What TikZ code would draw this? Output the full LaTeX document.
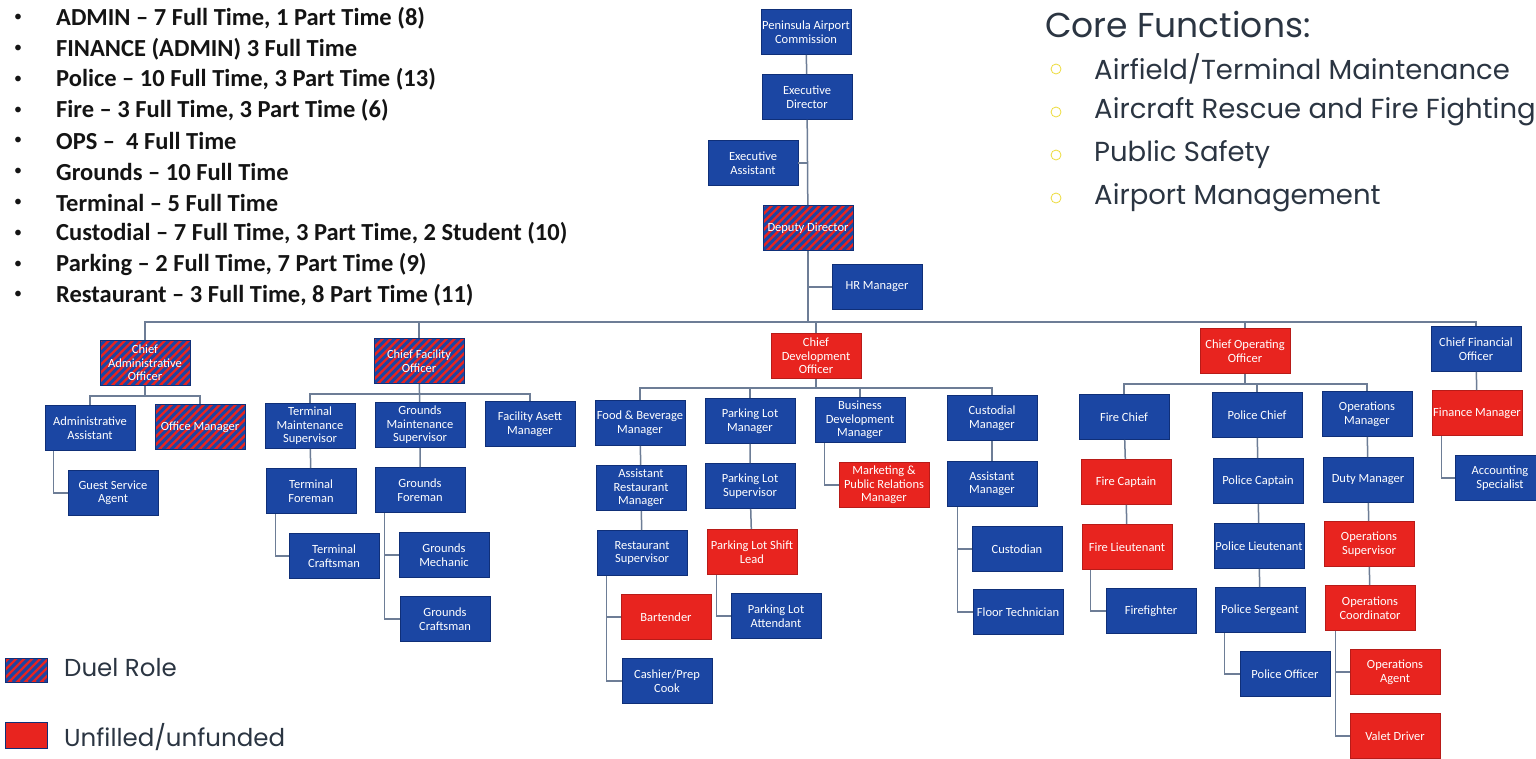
\documentclass[tikz,border=0pt]{standalone}
\usepackage{fontspec}
\usepackage{tikz}
\usetikzlibrary{calc}
\newfontfamily\boxfont{Carlito}
\newfontfamily\corefont{Poppins}
\definecolor{boxblue}{HTML}{1B46A3}
\definecolor{boxedge}{HTML}{0F2F78}
\definecolor{vacred}{HTML}{E8241F}
\definecolor{vacedge}{HTML}{B81B18}
\definecolor{wirecol}{HTML}{6D7D96}
\definecolor{ink}{HTML}{141414}
\definecolor{slate}{HTML}{2B3542}
\definecolor{ringcol}{HTML}{EDDC3C}
\tikzset{
  role/.style={draw=boxedge, fill=boxblue, line width=0.8pt, text=white, align=center,
    minimum width=90pt, minimum height=45pt, inner sep=1pt,
    font=\boxfont\fontsize{12.5}{13.5}\selectfont},
  vacant/.style={role, draw=vacedge, fill=vacred},
  duel/.style={role, fill=vacred, path picture={
    \foreach \s in {-8,...,13}
      \draw[boxblue, line width=2.9pt] ([xshift=\s*8pt]path picture bounding box.south west) -- ++(60pt,60pt);}},
  wire/.style={draw=wirecol, line width=1.5pt},
  stafftxt/.style={anchor=west, text=ink, inner sep=0pt, font=\boxfont\bfseries\fontsize{24.5}{26}\selectfont},
  coretxt/.style={anchor=west, text=slate, inner sep=0pt, font=\corefont\fontsize{27.5}{31}\selectfont},
  keytxt/.style={coretxt, font=\corefont\fontsize{24.5}{27}\selectfont},
  ring/.style={circle, draw=ringcol, line width=0.8pt, minimum size=10pt, inner sep=0pt}
}

\begin{document}
\begin{tikzpicture}[x=1pt, y=-1pt]
  \useasboundingbox[fill=white] (0,0) rectangle (1536,758);

  % staff counts
  \foreach \t [count=\i] in {{ADMIN – 7 Full Time, 1 Part Time (8)},
      {FINANCE (ADMIN) 3 Full Time},
      {Police – 10 Full Time, 3 Part Time (13)},
      {Fire – 3 Full Time, 3 Part Time (6)},
      {OPS –\ \ 4 Full Time},
      {Grounds – 10 Full Time},
      {Terminal – 5 Full Time},
      {Custodial – 7 Full Time, 3 Part Time, 2 Student (10)},
      {Parking – 2 Full Time, 7 Part Time (9)},
      {Restaurant – 3 Full Time, 8 Part Time (11)}}{
    \node[stafftxt, font=\boxfont\fontsize{16}{18}\selectfont] (dot\i) at (14,{18+30.8*(\i-1)}) {\textbullet};
    \node[stafftxt] (staff\i) at (56,{18+30.8*(\i-1)}) {\t};
  }

  % core functions
  \node[coretxt, font=\corefont\fontsize{34.5}{38}\selectfont] (coretitle) at (1045,25) {Core Functions:};
  \foreach \t [count=\i] in {Airfield/Terminal Maintenance, Aircraft Rescue and Fire Fighting,
      Public Safety, Airport Management}{
    \node[ring] (ring\i) at (1056,{26+43*\i}) {};
    \node[coretxt] (core\i) at (1094,{26+43*\i}) {\t};
  }

  % top of the chart
  \node[role] (pac) at (806,32) {Peninsula Airport\\Commission};
  \node[role] (exd) at (807,97) {Executive\\Director};
  \node[role] (exa) at (753,163) {Executive\\Assistant};
  \node[duel] (dep) at (808,228) {Deputy Director};
  \node[role] (hrm) at (877,287) {HR Manager};
  \coordinate (mainbus) at (808,322);

  % administration
  \node[duel] (cao) at (145,363) {Chief\\Administrative\\Officer};
  \node[role] (aas) at (90,428) {Administrative\\Assistant};
  \node[duel] (ofm) at (200,427) {Office Manager};
  \node[role] (gsa) at (113,493) {Guest Service\\Agent};

  % facilities
  \node[duel] (cfa) at (419,361) {Chief Facility\\Officer};
  \node[role] (tms) at (310,426) {Terminal\\Maintenance\\Supervisor};
  \node[role] (gms) at (420,425) {Grounds\\Maintenance\\Supervisor};
  \node[role] (fam) at (530,424) {Facility Asett\\Manager};
  \node[role] (tfm) at (311,491) {Terminal\\Foreman};
  \node[role] (gfm) at (420,490) {Grounds\\Foreman};
  \node[role] (tcr) at (334,556) {Terminal\\Craftsman};
  \node[role] (gme) at (444,555) {Grounds\\Mechanic};
  \node[role] (gcr) at (445,619) {Grounds\\Craftsman};

  % development
  \node[vacant] (cdo) at (816,356) {Chief\\Development\\Officer};
  \node[role] (fbm) at (640,423) {Food \& Beverage\\Manager};
  \node[role] (plm) at (750,421) {Parking Lot\\Manager};
  \node[role] (bdm) at (860,420) {Business\\Development\\Manager};
  \node[role] (csm) at (992,418) {Custodial\\Manager};
  \node[role] (arm) at (641,488) {Assistant\\Restaurant\\Manager};
  \node[role] (pls) at (750,486) {Parking Lot\\Supervisor};
  \node[vacant] (mpr) at (884,485) {Marketing \&\\Public Relations\\Manager};
  \node[role] (asm) at (992,484) {Assistant\\Manager};
  \node[role] (rsv) at (642,553) {Restaurant\\Supervisor};
  \node[vacant] (psl) at (752,552) {Parking Lot Shift\\Lead};
  \node[role] (cst) at (1017,549) {Custodian};
  \node[role] (flt) at (1018,612) {Floor Technician};
  \node[vacant] (btd) at (666,617) {Bartender};
  \node[role] (pla) at (776,616) {Parking Lot\\Attendant};
  \node[role] (cpc) at (667,681) {Cashier/Prep\\Cook};

  % operations
  \node[vacant] (coo) at (1245,351) {Chief Operating\\Officer};
  \node[role] (frc) at (1124,417) {Fire Chief};
  \node[role] (plc) at (1257,415) {Police Chief};
  \node[role] (opm) at (1367,414) {Operations\\Manager};
  \node[vacant] (fcp) at (1126,482) {Fire Captain};
  \node[role] (pcp) at (1258,481) {Police Captain};
  \node[role] (dtm) at (1368,480) {Duty Manager};
  \node[vacant] (flu) at (1127,547) {Fire Lieutenant};
  \node[role] (plt) at (1259,546) {Police Lieutenant};
  \node[vacant] (ops) at (1369,544) {Operations\\Supervisor};
  \node[role] (ffg) at (1151,611) {Firefighter};
  \node[role] (psg) at (1260,610) {Police Sergeant};
  \node[vacant] (opc) at (1370,608) {Operations\\Coordinator};
  \node[role] (pof) at (1285,674) {Police Officer};
  \node[vacant] (opa) at (1395,672) {Operations\\Agent};
  \node[vacant] (vdr) at (1395,736) {Valet Driver};

  % finance
  \node[role] (cfo) at (1476,349) {Chief Financial\\Officer};
  \node[vacant] (fnm) at (1477,413) {Finance Manager};
  \node[role] (acs) at (1500,478) {Accounting\\Specialist};

  \coordinate (caobus) at ([yshift=-10pt]cao.south);
  \coordinate (cfabus) at ([yshift=-10pt]cfa.south);
  \coordinate (cdobus) at ([yshift=-9pt]cdo.south);
  \coordinate (coobus) at ([yshift=-10pt]coo.south);

  % connectors
  \draw[wire] (pac) -- (exd) -- (dep);
  \draw[wire] (exa.east) -- (exa.east -| exd.south);
  \draw[wire] (hrm.west) -- (hrm.west -| dep.south);
  \draw[wire] (dep.south) -- (mainbus);
  \draw[wire] (cao.north) |- (mainbus) -| (cfo.north);
  \draw[wire] (cfa.north) -- (cfa.north |- mainbus);
  \draw[wire] (cdo.north) -- (cdo.north |- mainbus);
  \draw[wire] (coo.north) -- (coo.north |- mainbus);

  \draw[wire] (cao.south) -- (caobus);
  \draw[wire] (aas.north) |- (caobus) -| (ofm.north);
  \draw[wire] ([xshift=9pt]aas.south west) |- (gsa.west);

  \draw[wire] (cfa) -- (gms) -- (gfm);
  \draw[wire] (tms.north) |- (cfabus) -| (fam.north);
  \draw[wire] (tms) -- (tfm);
  \draw[wire] ([xshift=10pt]tfm.south west) |- (tcr.west);
  \draw[wire] ([xshift=10pt]gfm.south west) |- (gme.west);
  \draw[wire] ([xshift=10pt]gfm.south west) |- (gcr.west);

  \draw[wire] (cdo.south) -- (cdobus);
  \draw[wire] (fbm.north) |- (cdobus) -| (csm.north);
  \draw[wire] (plm.north) -- (plm.north |- cdobus);
  \draw[wire] (bdm.north) -- (bdm.north |- cdobus);
  \draw[wire] (fbm) -- (arm) -- (rsv);
  \draw[wire] (plm) -- (pls) -- (psl);
  \draw[wire] (csm) -- (asm);
  \draw[wire] ([xshift=10pt]rsv.south west) |- (btd.west);
  \draw[wire] ([xshift=10pt]rsv.south west) |- (cpc.west);
  \draw[wire] ([xshift=10pt]psl.south west) |- (pla.west);
  \draw[wire] ([xshift=10pt]bdm.south west) |- (mpr.west);
  \draw[wire] ([xshift=11pt]asm.south west) |- (cst.west);
  \draw[wire] ([xshift=11pt]asm.south west) |- (flt.west);

  \draw[wire] (coo.south) -- (coobus);
  \draw[wire] (frc.north) |- (coobus) -| (opm.north);
  \draw[wire] (plc.north) -- (plc.north |- coobus);
  \draw[wire] (frc) -- (fcp) -- (flu);
  \draw[wire] (plc) -- (pcp) -- (plt) -- (psg);
  \draw[wire] (opm) -- (dtm) -- (ops) -- (opc);
  \draw[wire] ([xshift=9pt]flu.south west) |- (ffg.west);
  \draw[wire] ([xshift=10pt]psg.south west) |- (pof.west);
  \draw[wire] ([xshift=11pt]opc.south west) |- (opa.west);
  \draw[wire] ([xshift=11pt]opc.south west) |- (vdr.west);

  \draw[wire] (cfo) -- (fnm);
  \draw[wire] ([xshift=10pt]fnm.south west) |- (acs.west);

  % legend
  \node[duel, minimum width=42pt, minimum height=24pt] (keyduel) at (26,670) {};
  \node[vacant, draw=boxedge, minimum width=42pt, minimum height=26pt] (keyvac) at (26,735) {};
  \node[keytxt] (keyduellab) at (64,668) {Duel Role};
  \node[keytxt] (keyvaclab) at (64,737) {Unfilled/unfunded};
\end{tikzpicture}
\end{document}
